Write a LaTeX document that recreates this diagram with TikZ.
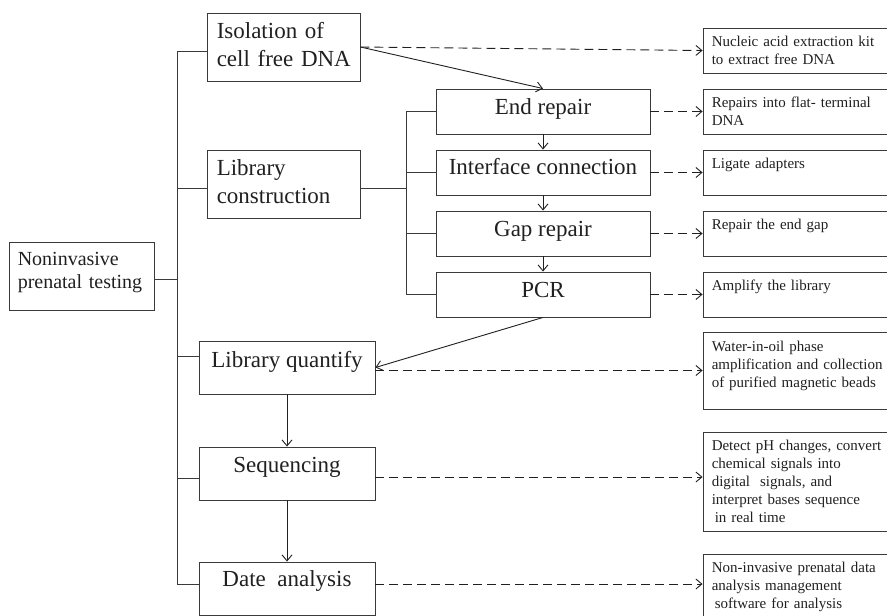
\documentclass[tikz,border=0pt]{standalone}
\usepackage{fontspec}
\setmainfont{Liberation Serif}
\usetikzlibrary{arrows.meta,calc}
\definecolor{ink}{HTML}{202020}
\definecolor{edgec}{HTML}{3A3A3A}
\begin{document}
\begin{tikzpicture}[x=1pt,y=-1pt,
  box/.style 2 args={draw=edgec,line width=0.9pt,rectangle,inner sep=0pt,minimum width=#1,minimum height=#2},
  bigtxt/.style={font=\fontsize{23}{28}\selectfont,text=ink,inner sep=0pt,anchor=base west,align=left,text width=150pt},
  midtxt/.style={font=\fontsize{20}{23}\selectfont,text=ink,inner sep=0pt,anchor=base west,align=left,text width=140pt},
  ctxt/.style={font=\fontsize{23}{28}\selectfont,text=ink,inner sep=0pt,anchor=base},
  smalltxt/.style={font=\fontsize{15}{18}\selectfont,text=ink,inner sep=0pt,anchor=base west,align=left,text width=175pt},
  conn/.style={draw=edgec,line width=0.9pt},
  arr/.style={draw=ink,line width=0.9pt,-{Straight Barb[length=6pt,width=10pt]}},
  darr/.style={arr,dash pattern=on 9pt off 5pt}]
\path[use as bounding box] (0,0) rectangle (887,616);
\clip (0,0) rectangle (887,616);

% main column
\node[box={153pt}{68pt}] (iso) at (283.5,47) {};
\node[box={153pt}{68pt}] (libc) at (283.5,184) {};
\node[box={145pt}{68pt}] (nipt) at (81.5,276) {};
\node[box={176pt}{53pt}] (libq) at (287,367.5) {};
\node[box={176pt}{53pt}] (seq) at (287,473.5) {};
\node[box={176pt}{53pt}] (date) at (287,588.5) {};

\node[bigtxt] at ($(iso.north west)+(10,26)$) {Isolation of\\cell free DNA};
\node[bigtxt] at ($(libc.north west)+(10,26)$) {Library\\construction};
\node[midtxt] at ($(nipt.north west)+(9,24)$) {Noninvasive\\prenatal testing};
\node[ctxt] at ($(libq.north)+(0,26.5)$) {Library quantify};
\node[ctxt] at ($(seq.north)+(0,26)$) {Sequencing};
\node[ctxt] at ($(date.north)+(0,25)$) {Date\ \ analysis};

% sub steps
\node[box={214pt}{45pt}] (endr) at (543,111.5) {};
\node[box={214pt}{45pt}] (intf) at (543,172.5) {};
\node[box={214pt}{45pt}] (gapr) at (543,233.5) {};
\node[box={214pt}{45pt}] (pcr) at (543,294.5) {};
\node[ctxt] at ($(endr.north)+(0,26)$) {End repair};
\node[ctxt] at ($(intf.north)+(0,25)$) {Interface connection};
\node[ctxt] at ($(gapr.north)+(0,26)$) {Gap repair};
\node[ctxt] at ($(pcr.north)+(0,26)$) {PCR};

% right notes
\node[box={200pt}{45pt}] (r1) at (803,50.5) {};
\node[box={200pt}{45pt}] (r2) at (803,111.5) {};
\node[box={200pt}{45pt}] (r3) at (803,172.5) {};
\node[box={200pt}{45pt}] (r4) at (803,233.5) {};
\node[box={200pt}{45pt}] (r5) at (803,294.5) {};
\node[box={200pt}{77pt}] (r6) at (803,370.5) {};
\node[box={200pt}{99pt}] (r7) at (803,481.5) {};
\node[box={200pt}{100pt}] (r8) at (803,604) {};
\node[smalltxt] at ($(r1.north west)+(9,19)$) {Nucleic acid extraction kit\\to extract free DNA};
\node[smalltxt] at ($(r2.north west)+(9,19)$) {Repairs into flat- terminal\\DNA};
\node[smalltxt] at ($(r3.north west)+(9,19)$) {Ligate adapters};
\node[smalltxt] at ($(r4.north west)+(9,19)$) {Repair the end gap};
\node[smalltxt] at ($(r5.north west)+(9,19)$) {Amplify the library};
\node[smalltxt] at ($(r6.north west)+(9,20)$) {Water-in-oil phase\\amplification and collection\\of purified magnetic beads};
\node[smalltxt] at ($(r7.north west)+(9,19)$) {Detect pH changes, convert\\chemical signals into\\digital\ \ signals, and\\interpret bases sequence\\\hspace*{3pt}in real time};
\node[smalltxt] at ($(r8.north west)+(9,19)$) {Non-invasive prenatal data\\analysis management\\\hspace*{3pt}software for analysis};

% trunk
\coordinate (t1) at (177,51);
\coordinate (tL) at (177,188);
\coordinate (tN) at (177,279);
\coordinate (tQ) at (177,356);
\coordinate (tS) at (177,478);
\coordinate (tD) at (177,584);
\draw[conn] (t1) -- (tD);
\draw[conn] (t1) -- (t1 -| iso.west);
\draw[conn] (tL) -- (tL -| libc.west);
\draw[conn] (nipt.east |- tN) -- (tN);
\draw[conn] (tQ) -- (tQ -| libq.west);
\draw[conn] (tS) -- (tS -| seq.west);
\draw[conn] (tD) -- (tD -| date.west);

% sub trunk
\coordinate (s0) at (406,188);
\draw[conn] (libc.east |- s0) -- (s0);
\draw[conn] (s0 |- endr.west) -- (s0 |- pcr.west);
\draw[conn] (s0 |- endr.west) -- (endr.west);
\draw[conn] (s0 |- intf.west) -- (intf.west);
\draw[conn] (s0 |- gapr.west) -- (gapr.west);
\draw[conn] (s0 |- pcr.west) -- (pcr.west);

% solid arrows
\draw[arr] (iso.east) -- (endr.north);
\draw[arr] (endr.south) -- (intf.north);
\draw[arr] (intf.south) -- (gapr.north);
\draw[arr] (gapr.south) -- (pcr.north);
\draw[arr] (pcr.south) -- (libq.east);
\draw[arr] (libq.south) -- (seq.north);
\draw[arr] (seq.south) -- (date.north);

% dashed arrows
\draw[darr] (iso.east) -- (r1.west);
\draw[darr] (endr.east) -- (r2.west);
\draw[darr] (intf.east) -- (r3.west);
\draw[darr] (gapr.east) -- (r4.west);
\draw[darr] (pcr.east) -- (r5.west);
\draw[darr] (libq.east |- r6.west) -- (r6.west);
\coordinate (q7) at ($(seq.east)+(0,3.5)$);
\draw[darr] (q7) -- (q7 -| r7.west);
\coordinate (q8) at ($(date.east)+(0,-4.5)$);
\draw[darr] (q8) -- (q8 -| r8.west);
\end{tikzpicture}
\end{document}
